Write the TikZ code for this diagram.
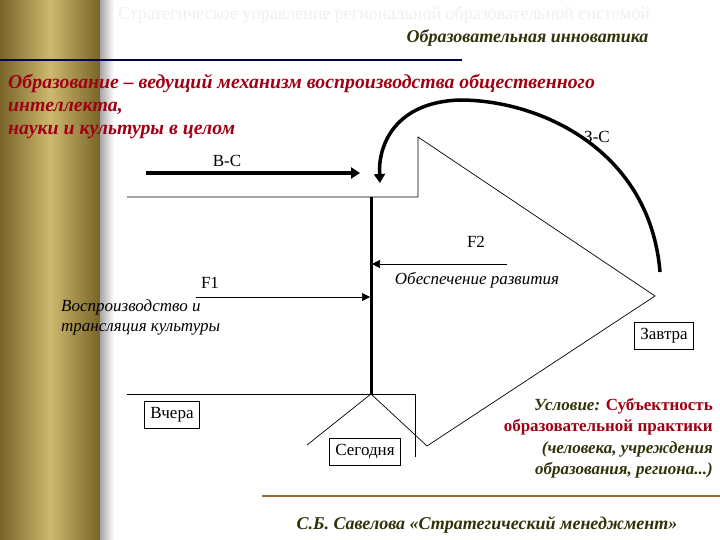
\documentclass[tikz,border=0pt]{standalone}
\usepackage{fontspec}
\setmainfont{Liberation Serif}
\usetikzlibrary{arrows.meta}
\definecolor{redt}{RGB}{160,0,20}
\definecolor{olivet}{RGB}{50,50,10}
\definecolor{gold1}{RGB}{205,185,110}
\definecolor{gold2}{RGB}{120,100,40}
\definecolor{brownl}{RGB}{150,110,50}
\tikzset{
  box/.style={draw,line width=0.8pt,inner sep=6pt,font=\fontsize{17}{19}\selectfont},
  lab/.style={font=\fontsize{17}{19}\selectfont},
  itl/.style={font=\fontsize{17}{20}\selectfont\itshape,align=left},
  thin/.style={line width=0.7pt},
  thick3/.style={line width=3.5pt},
}
\begin{document}
\begin{tikzpicture}[x=1pt,y=-1pt]
\useasboundingbox (0,0) rectangle (720,540);
\fill[white] (0,0) rectangle (720,540);
% left stripe
\shade[left color=gold2,right color=gold1] (0,0) rectangle (50,540);
\shade[left color=gold1,right color=gold2] (50,0) rectangle (100,540);
\shade[left color=gray!70,right color=white] (100,0) rectangle (114,540);
\node[font=\fontsize{18}{20}\selectfont,text=gray!12] (ttl) at (384,15) {Стратегическое управление региональной образовательной системой};
\node[font=\fontsize{18}{20}\selectfont\bfseries\itshape,text=olivet,anchor=east] (sub) at (652,38) {Образовательная инноватика};
\coordinate (bl1) at (0,60); \coordinate (bl2) at (462,60);
\draw[line width=2pt,blue!30!black] (bl1) -- (bl2);
\node[font=\fontsize{19.8}{23}\selectfont\bfseries\itshape,text=redt,anchor=north west,align=left,inner sep=0pt] (head) at (8,74)
 {Образование – ведущий механизм воспроизводства общественного\\интеллекта,\\науки и культуры в целом};
% geometry
\coordinate (hl) at (127,197); \coordinate (vt) at (418,137); \coordinate (hr) at (418,197);
\coordinate (rv) at (655,296); \coordinate (lb) at (427,446);
\coordinate (bl) at (127,394); \coordinate (bm) at (371,394); \coordinate (br) at (415,394);
\coordinate (brd) at (415,457); \coordinate (dl) at (307,445); \coordinate (top) at (371,197);
\draw[thin] (hl) -- (hr) -- (vt) -- (rv) -- (lb) -- (bm) -- (dl);
\draw[thin] (bl) -- (br) -- (brd);
\draw[line width=3pt] (top) -- (bm);
% B-C
\coordinate (bc1) at (146,173); \coordinate (bc2) at (360,173);
\draw[thick3,-{Triangle[length=9pt,width=11pt]}] (bc1) -- (bc2);
\node[lab] (bcl) at (227,161) {В-С};
% F2
\coordinate (f2a) at (507,264); \coordinate (f2b) at (372,264);
\draw[thin,-{Triangle[length=8pt,width=8pt]}] (f2a) -- (f2b);
\node[lab] (f2l) at (476,242) {F2};
\node[itl] (f2t) at (477,280) {Обеспечение развития};
% F1
\coordinate (f1a) at (196,297); \coordinate (f1b) at (370,297);
\draw[thin,-{Triangle[length=8pt,width=8pt]}] (f1a) -- (f1b);
\node[lab] (f1l) at (210,283) {F1};
\node[itl,anchor=north west,inner sep=0pt] (f1t) at (61,300) {Воспроизводство и\\трансляция культуры};
% boxes
\node[box] (vch) at (172,415) {Вчера};
\node[box] (seg) at (365,452) {Сегодня};
\node[box] (zav) at (664,336) {Завтра};
% 3-C curve
\coordinate (c1) at (660,272); \coordinate (c2) at (380,183);
\draw[line width=3.5pt,-{Triangle[length=9pt,width=11pt]}] (c1) .. controls (650,150) and (540,100) .. (460,100) .. controls (395,102) and (378,145) .. (c2);
\node[lab] (zcl) at (597,137) {З-С};
% condition
\node[font=\fontsize{17}{21.5}\selectfont\bfseries,align=right,anchor=north east,inner sep=0pt] (cond) at (713,398)
 {{\itshape\color{olivet}Условие:} {\color{redt}Субъектность}\\{\color{redt}образовательной практики}\\{\itshape\color{olivet}(человека, учреждения}\\{\itshape\color{olivet}образования, региона...)}};
\coordinate (ln1) at (262,496); \coordinate (ln2) at (720,496);
\draw[line width=2pt,brownl] (ln1) -- (ln2);
\node[font=\fontsize{18}{20}\selectfont\bfseries\itshape,text=olivet] (foot) at (487,525) {С.Б. Савелова «Стратегический менеджмент»};
\end{tikzpicture}
\end{document}
